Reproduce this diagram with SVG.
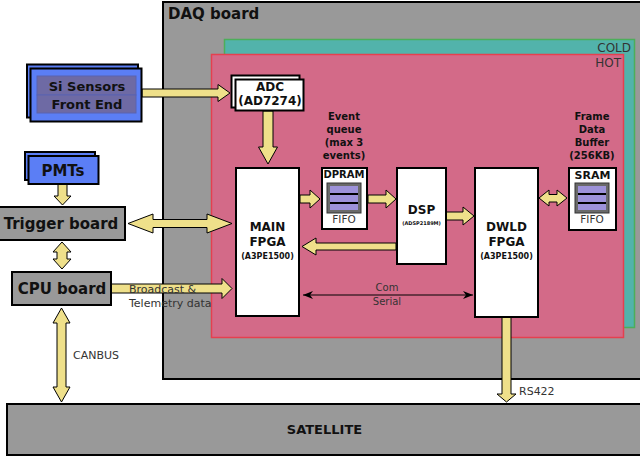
<svg xmlns="http://www.w3.org/2000/svg" width="640" height="459" viewBox="0 0 640 459">
  <defs>
    <style>
      .board { fill: #999999; stroke: #000; stroke-width: 2; }
      .blue { fill: #5b7ef5; stroke: #000; stroke-width: 2; }
      .white { fill: #fff; stroke: #000; stroke-width: 2; }
      .row { fill: #6e6aa4; stroke: #5a63b0; stroke-width: 1; }
      .bus { fill: #efe08a; stroke: #000; stroke-width: 1; stroke-linejoin: miter; }
      .b { font-family: "DejaVu Sans", Verdana, sans-serif; font-weight: bold; fill: #111; text-anchor: middle; }
      .n { font-family: "DejaVu Sans", Verdana, sans-serif; fill: #333; }
      .ser { stroke: #000; stroke-width: 1.2; fill: none; }
    </style>
    <marker id="tip" viewBox="0 0 10 8" refX="10" refY="4" markerWidth="10" markerHeight="8" markerUnits="userSpaceOnUse" orient="auto-start-reverse">
      <path d="M0,0 L10,4 L0,8 L3,4 Z" fill="#000"/>
    </marker>
    <g id="fifo">
      <rect x="0" y="0" width="34" height="30" fill="#6a6a6a" stroke="#333" stroke-width="1"/>
      <rect x="3" y="3" width="28" height="24" fill="#000"/>
      <rect x="3" y="3" width="28" height="7" fill="#9d92d9"/>
      <rect x="3" y="12" width="28" height="7" fill="#9d92d9"/>
      <rect x="3" y="21" width="28" height="6" fill="#9d92d9"/>
    </g>
  </defs>

  <!-- DAQ board with cold and hot zones -->
  <g id="daq">
    <rect class="board" x="163" y="2" width="500" height="377"/>
    <text class="b" x="168" y="19" font-size="15" text-anchor="start" style="text-anchor:start">DAQ board</text>
  </g>
  <g id="cold">
    <rect x="224.5" y="39.5" width="410" height="288" fill="#52b3ab" stroke="#4cae5a" stroke-width="1.5"/>
    <text class="n" x="631" y="52" font-size="12" text-anchor="end" fill="#1a1a1a">COLD</text>
  </g>
  <g id="hot">
    <rect x="211.5" y="54.5" width="412" height="283" fill="#d36a88" stroke="#e5404f" stroke-width="1.5"/>
    <text class="n" x="621" y="67" font-size="12" text-anchor="end" fill="#1a1a1a">HOT</text>
  </g>

  <!-- connectors -->
  <g id="connectors">
    <!-- Si sensors to ADC -->
    <polygon class="bus" points="142,89 218,89 218,84.5 230,93 218,101.5 218,97 142,97"/>
    <!-- ADC to main FPGA -->
    <polygon class="bus" points="263,111 273,111 273,147 277.5,147 268,164 258.5,147 263,147"/>
    <!-- PMTs to trigger board -->
    <polygon class="bus" points="58,184 67,184 67,196 71,196 62.5,205 54,196 58,196"/>
    <!-- trigger board <-> main FPGA -->
    <polygon class="bus" points="128,223.5 153,214 153,219.5 207,219.5 207,214 232,223.5 207,233 207,227.5 153,227.5 153,233"/>
    <!-- trigger board <-> CPU board -->
    <polygon class="bus" points="62,242 71,252 67,252 67,259 71,259 62,269 53,259 57,259 57,252 53,252"/>
    <!-- CPU board to main FPGA -->
    <polygon class="bus" points="111,284 222,284 222,278.5 232,288.5 222,298.5 222,293 111,293"/>
    <!-- main FPGA to DPRAM -->
    <polygon class="bus" points="300,195 310,195 310,190 320,199 310,208 310,203 300,203"/>
    <!-- DPRAM to DSP -->
    <polygon class="bus" points="368,195 386,195 386,190 396,199 386,208 386,203 368,203"/>
    <!-- DSP back to main FPGA -->
    <polygon class="bus" points="396,243 316,243 316,238 302,246.5 316,255 316,250 396,250"/>
    <!-- DSP to DWLD FPGA -->
    <polygon class="bus" points="446,212 463,212 463,207 474,216 463,225 463,220 446,220"/>
    <!-- DWLD FPGA <-> SRAM -->
    <polygon class="bus" points="539,198 549,190 549,194.5 557,194.5 557,190 567,198 557,206 557,202 549,202 549,206"/>
    <!-- Com serial link -->
    <line class="ser" x1="303" y1="295" x2="473" y2="295" marker-start="url(#tip)" marker-end="url(#tip)"/>
    <!-- DWLD FPGA to satellite (RS422) -->
    <polygon class="bus" points="502,317 511,317 511,394 516,394 506.5,402 497,394 502,394"/>
    <!-- CPU board <-> satellite (CANBUS) -->
    <polygon class="bus" points="61.5,308 70,323 66,323 66,387 70,387 61.5,402 53,387 57,387 57,323 53,323"/>

    <text class="n" x="129" y="293" font-size="11">Broadcast &amp;</text>
    <text class="n" x="129" y="307" font-size="11">Telemetry data</text>
    <text class="n" x="387" y="291" font-size="10" text-anchor="middle">Com</text>
    <text class="n" x="387" y="305" font-size="10" text-anchor="middle">Serial</text>
    <text class="n" x="519" y="395" font-size="11">RS422</text>
    <text class="n" x="73" y="359" font-size="11">CANBUS</text>
  </g>

  <!-- Si sensors front end -->
  <g id="si-sensors">
    <rect class="blue" x="27" y="64.5" width="111" height="53"/>
    <rect class="blue" x="30.5" y="68.5" width="111" height="53"/>
    <rect class="row" x="37" y="76" width="99" height="19"/>
    <rect class="row" x="37" y="95" width="99" height="18"/>
    <text class="b" x="87" y="91" font-size="13">Si Sensors</text>
    <text class="b" x="87" y="109" font-size="13">Front End</text>
  </g>

  <!-- ADC -->
  <g id="adc">
    <rect class="white" x="231.5" y="75.5" width="68" height="32"/>
    <rect class="white" x="235.5" y="79.5" width="68" height="31"/>
    <text class="b" x="270" y="91" font-size="12">ADC</text>
    <text class="b" x="270" y="105" font-size="12">(AD7274)</text>
  </g>

  <!-- PMTs -->
  <g id="pmts">
    <rect class="blue" x="25" y="152" width="70" height="28"/>
    <rect class="blue" x="28.5" y="156" width="70" height="28"/>
    <text class="b" x="63" y="176" font-size="15">PMTs</text>
  </g>

  <!-- trigger board -->
  <g id="trigger">
    <rect class="board" x="-5" y="207" width="130" height="33"/>
    <text class="b" x="61" y="229" font-size="15">Trigger board</text>
  </g>

  <!-- CPU board -->
  <g id="cpu">
    <rect class="board" x="12" y="272" width="99" height="33"/>
    <text class="b" x="62" y="294" font-size="15">CPU board</text>
  </g>

  <!-- main FPGA -->
  <g id="main-fpga">
    <rect class="white" x="236" y="168" width="63" height="148"/>
    <text class="b" x="267.5" y="231" font-size="12">MAIN</text>
    <text class="b" x="267.5" y="246" font-size="12">FPGA</text>
    <text class="b" x="267.5" y="259" font-size="8">(A3PE1500)</text>
  </g>

  <!-- event queue DPRAM -->
  <g id="dpram">
    <text class="b" x="344" y="120" font-size="10">Event</text>
    <text class="b" x="344" y="133" font-size="10">queue</text>
    <text class="b" x="344" y="146" font-size="10">(max 3</text>
    <text class="b" x="344" y="159" font-size="10">events)</text>
    <rect class="white" x="322" y="168" width="45" height="61"/>
    <text class="b" x="344" y="178" font-size="10">DPRAM</text>
    <use href="#fifo" x="327" y="183"/>
    <text class="n" x="344" y="223" font-size="10.5" text-anchor="middle">FIFO</text>
  </g>

  <!-- DSP -->
  <g id="dsp">
    <rect class="white" x="397" y="168" width="49" height="96"/>
    <text class="b" x="421.5" y="214" font-size="12">DSP</text>
    <text class="b" x="421.5" y="225" font-size="5">(ADSP2189M)</text>
  </g>

  <!-- DWLD FPGA -->
  <g id="dwld-fpga">
    <rect class="white" x="475" y="168" width="63" height="149"/>
    <text class="b" x="506.5" y="231" font-size="12">DWLD</text>
    <text class="b" x="506.5" y="246" font-size="12">FPGA</text>
    <text class="b" x="506.5" y="259" font-size="8">(A3PE1500)</text>
  </g>

  <!-- frame data buffer SRAM -->
  <g id="sram">
    <text class="b" x="592" y="120" font-size="10">Frame</text>
    <text class="b" x="592" y="133" font-size="10">Data</text>
    <text class="b" x="592" y="146" font-size="10">Buffer</text>
    <text class="b" x="592" y="159" font-size="10">(256KB)</text>
    <rect class="white" x="569" y="168" width="47" height="62"/>
    <text class="b" x="592.5" y="179" font-size="11">SRAM</text>
    <use href="#fifo" x="575" y="183"/>
    <text class="n" x="592" y="223" font-size="10.5" text-anchor="middle">FIFO</text>
  </g>

  <!-- satellite -->
  <g id="satellite">
    <rect class="board" x="7" y="404" width="650" height="51"/>
    <text class="b" x="324.5" y="434" font-size="13">SATELLITE</text>
  </g>
</svg>
